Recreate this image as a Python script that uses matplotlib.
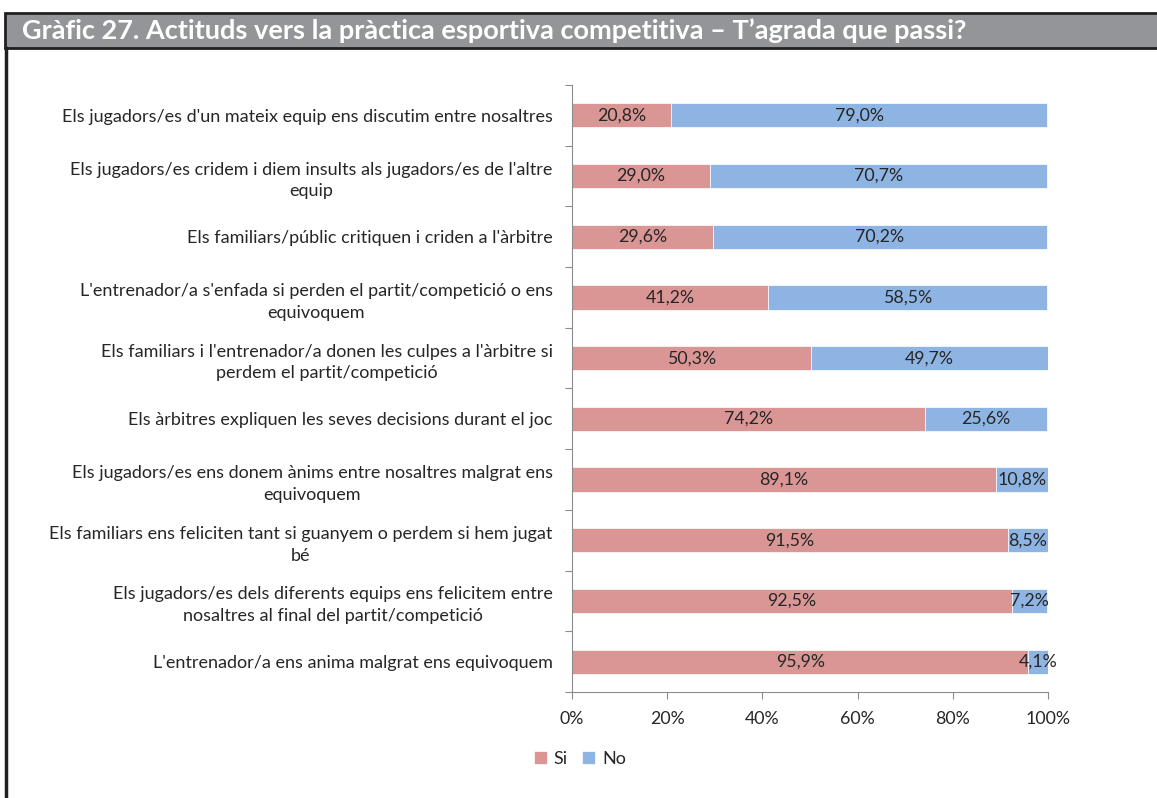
import matplotlib.pyplot as plt
from matplotlib.patches import Rectangle

plt.rcParams['font.family'] = ['Lato', 'DejaVu Sans']

categories = [
    "Els jugadors/es d'un mateix equip ens discutim entre nosaltres",
    "Els jugadors/es cridem i diem insults als jugadors/es de l'altre\nequip",
    "Els familiars/públic critiquen i criden a l'àrbitre",
    "L'entrenador/a s'enfada si perden el partit/competició o ens\nequivoquem",
    "Els familiars i l'entrenador/a donen les culpes a l'àrbitre si\nperdem el partit/competició",
    "Els àrbitres expliquen les seves decisions durant el joc",
    "Els jugadors/es ens donem ànims entre nosaltres malgrat ens\nequivoquem",
    "Els familiars ens feliciten tant si guanyem o perdem si hem jugat\nbé",
    "Els jugadors/es dels diferents equips ens felicitem entre\nnosaltres al final del partit/competició",
    "L'entrenador/a ens anima malgrat ens equivoquem",
]
si = [20.8, 29.0, 29.6, 41.2, 50.3, 74.2, 89.1, 91.5, 92.5, 95.9]
no = [79.0, 70.7, 70.2, 58.5, 49.7, 25.6, 10.8, 8.5, 7.2, 4.1]

def fmt(v):
    return ("%.1f%%" % v).replace(".", ",")

col_si = "#D99694"
col_no = "#8EB4E3"
grey = "#8C8C8C"

fig = plt.figure(figsize=(11.57, 7.98), dpi=100)

# header band
fig.patches.append(Rectangle((5/1157, 1-48/798), 1, 35/798, transform=fig.transFigure,
                             facecolor="#939598", edgecolor="#231F20", linewidth=2))
fig.text(22/1157, 1-31/798, "Gràfic 27. Actituds vers la pràctica esportiva competitiva – T’agrada que passi?",
         color="white", fontsize=19.5, fontweight="bold", va="center", ha="left")
fig.lines.append(plt.Line2D([6/1157, 6/1157], [0, 1-48/798], transform=fig.transFigure,
                            color="#231F20", linewidth=2.5))

ax = fig.add_axes([572/1157, 1-692/798, 476/1157, 607/798])
y = list(range(len(categories)))
ax.barh(y, si, height=0.4, color=col_si, edgecolor="white", linewidth=0.5, label="Si")
ax.barh(y, no, left=si, height=0.4, color=col_no, edgecolor="white", linewidth=0.5, label="No")
for i in y:
    ax.text(si[i]/2, i, fmt(si[i]), ha="center", va="center", fontsize=12.8, color="#262626")
    xn = si[i] + no[i]/2
    ax.text(xn, i, fmt(no[i]), ha="center", va="center", fontsize=12.8, color="#262626")

ax.set_xlim(0, 100)
ax.set_ylim(len(categories)-0.5, -0.5)
ax.set_xticks([0, 20, 40, 60, 80, 100])
ax.set_xticklabels(["0%", "20%", "40%", "60%", "80%", "100%"])
ax.set_yticks([i - 0.5 for i in range(len(categories)+1)], minor=False)
ax.set_yticklabels([])
ax.set_yticks(y, minor=True)
ax.set_yticklabels(categories, minor=True)
ax.tick_params(axis="y", which="minor", length=0, pad=14, labelsize=13, labelcolor="#262626")
ax.tick_params(axis="y", which="major", length=5, color=grey, direction="out")
ax.tick_params(axis="x", length=5, color=grey, labelsize=12.8, labelcolor="#262626", pad=9)
for lab in ax.get_yticklabels(minor=True):
    lab.set_multialignment("center")
    lab.set_linespacing(1.45)
for s in ["top", "right"]:
    ax.spines[s].set_visible(False)
ax.spines["left"].set_color(grey)
ax.spines["bottom"].set_color(grey)

fig.legend(loc="center", bbox_to_anchor=(580/1157, 1-759/798), ncol=2, frameon=False,
           fontsize=13, handlelength=0.7, handleheight=0.7, handletextpad=0.4, columnspacing=0.8,
           labelcolor="#262626")

fig.savefig("out.png", dpi=100)
